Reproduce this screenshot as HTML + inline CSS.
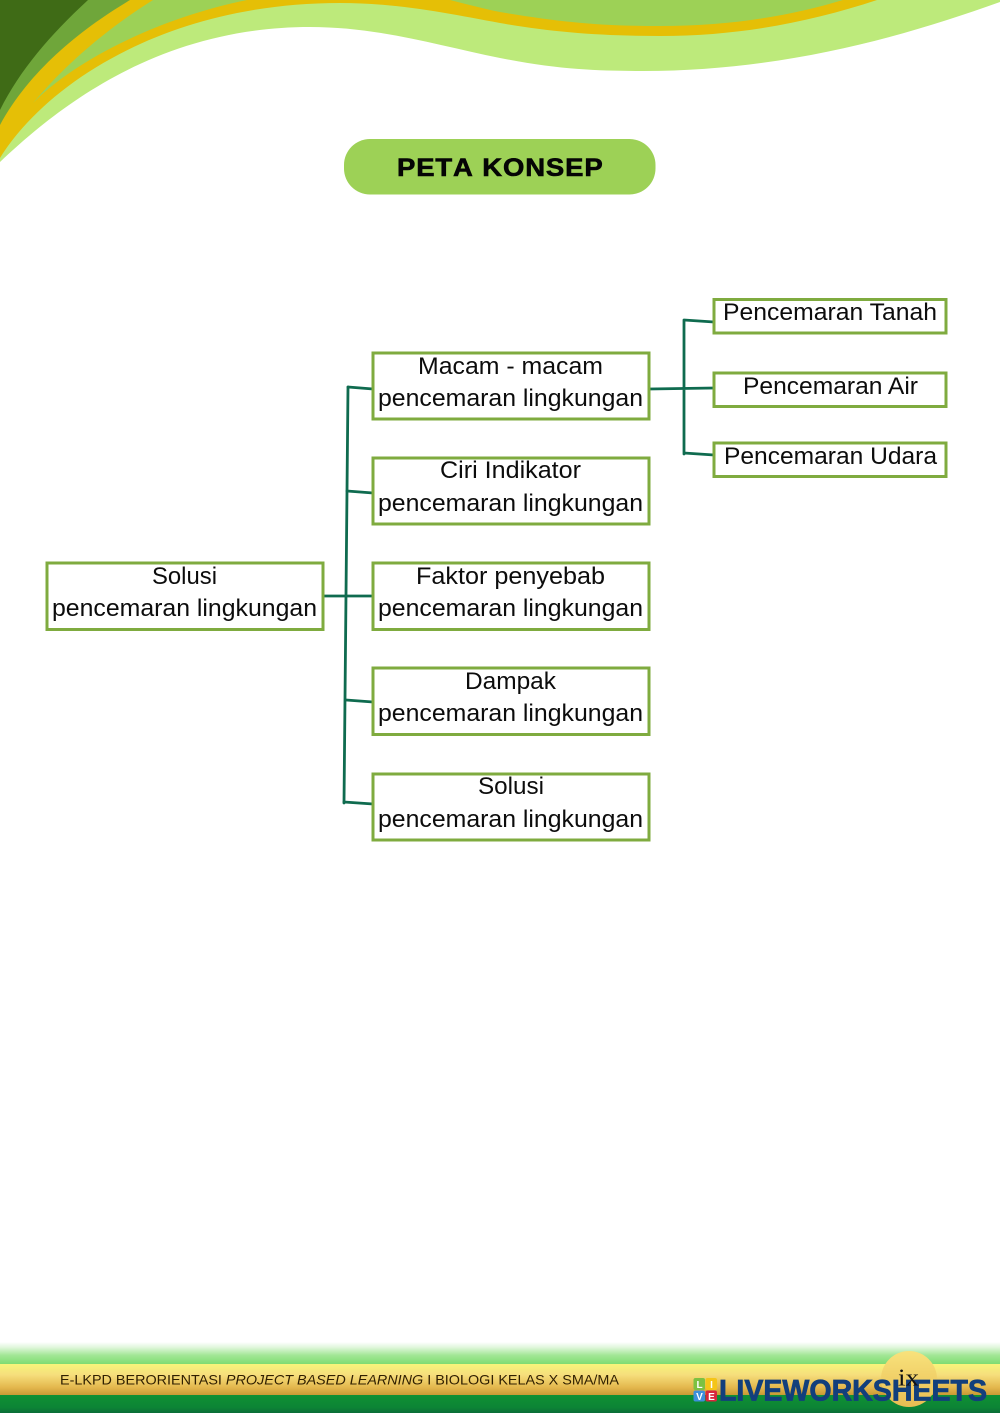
<!DOCTYPE html>
<html>
<head>
<meta charset="utf-8">
<style>
html,body{margin:0;padding:0;background:#fff;width:1000px;height:1414px;overflow:hidden}
svg{display:block}
.t{font-family:"Liberation Sans",sans-serif;font-size:24px;fill:#0c0c0c;text-anchor:start}
.b{fill:#fff;stroke:#7fab3f;stroke-width:3}
.l{stroke:#0f6b4f;stroke-width:2.8;fill:none;stroke-linecap:round}
</style>
</head>
<body>
<svg width="1000" height="1414" viewBox="0 0 1000 1414" xmlns="http://www.w3.org/2000/svg">
<defs>
<linearGradient id="g1" x1="0" y1="0" x2="0" y2="1"><stop offset="0" stop-color="#fff"/><stop offset=".25" stop-color="#dff6da"/><stop offset=".6" stop-color="#a2e796"/><stop offset="1" stop-color="#7fdc72"/></linearGradient>
<linearGradient id="g2" x1="0" y1="0" x2="0" y2="1"><stop offset="0" stop-color="#f7f57a"/><stop offset=".35" stop-color="#f6de7c"/><stop offset=".75" stop-color="#e4b84e"/><stop offset="1" stop-color="#c99a34"/></linearGradient>
<linearGradient id="g3" x1="0" y1="0" x2="0" y2="1"><stop offset="0" stop-color="#0f9134"/><stop offset=".7" stop-color="#0c8435"/><stop offset="1" stop-color="#0b6d38"/></linearGradient>
<linearGradient id="g4" x1="0" y1="0" x2="0" y2="1"><stop offset="0" stop-color="#f8e27c"/><stop offset="1" stop-color="#e9bd52"/></linearGradient>
</defs>

<!-- header waves -->
<path d="M0 162C60 105 160 27 310 27C380 27 440 46 500 58C560 70 600 71 643 71C780 71 900 38 1000 2V0H0Z" fill="#bdea7b"/>
<path d="M0 158C45 85 165 3 340 3C400 3 450 14 500 23C550 32 600 36 660 36C740 36 810 22 877 0H0Z" fill="#e5bf06"/>
<path d="M33 103C70 65 150 20 247 0H153C105 30 65 65 33 103Z" fill="#9dd156"/>
<path d="M450 0C470 5 485 9 500 12C560 22 600 26 660 26C730 26 790 16 843 0Z" fill="#9dd156"/>
<path d="M0 125C30 70 80 30 130 0H0Z" fill="#6fa63a"/>
<path d="M0 110C20 70 50 35 88 0H0Z" fill="#3f6b16"/>

<!-- title -->
<rect x="344" y="139" width="311.500" height="55.500" rx="26" fill="#9dd156"/>
<text transform="translate(397,176) scale(1.1,1)" x="0" y="0" font-family="'Liberation Sans',sans-serif" font-weight="700" font-size="25" fill="#050505" stroke="#050505" stroke-width=".6" style="font-kerning:none" textLength="187" lengthAdjust="spacing">PETA KONSEP</text>

<!-- connectors -->
<path class="l" d="M348 387L344 803"/>
<path class="l" d="M348 387L373 389M347 491L373 493M323 596H373M346 700L373 702M344 802L373 804"/>
<path class="l" d="M649 389L714 388M684 320V454M684 320L714 322M684 453L714 455"/>

<!-- boxes -->
<rect class="b" x="47" y="563" width="276" height="66.500"/>
<rect class="b" x="373" y="353" width="276" height="66"/>
<rect class="b" x="373" y="458" width="276" height="66"/>
<rect class="b" x="373" y="563" width="276" height="66.500"/>
<rect class="b" x="373" y="668" width="276" height="66.500"/>
<rect class="b" x="373" y="774" width="276" height="66"/>
<rect class="b" x="714" y="299.500" width="232" height="33.500"/>
<rect class="b" x="714" y="373" width="232" height="33.500"/>
<rect class="b" x="714" y="443" width="232" height="33.500"/>

<!-- labels -->
<text class="t" x="152" y="584" textLength="65" lengthAdjust="spacingAndGlyphs">Solusi</text>
<text class="t" x="52" y="616" textLength="265" lengthAdjust="spacingAndGlyphs">pencemaran lingkungan</text>

<text class="t" x="418" y="374" textLength="185" lengthAdjust="spacingAndGlyphs">Macam - macam</text>
<text class="t" x="378" y="406" textLength="265" lengthAdjust="spacingAndGlyphs">pencemaran lingkungan</text>

<text class="t" x="440" y="478" textLength="141" lengthAdjust="spacingAndGlyphs">Ciri Indikator</text>
<text class="t" x="378" y="511" textLength="265" lengthAdjust="spacingAndGlyphs">pencemaran lingkungan</text>

<text class="t" x="416" y="584" textLength="189" lengthAdjust="spacingAndGlyphs">Faktor penyebab</text>
<text class="t" x="378" y="616" textLength="265" lengthAdjust="spacingAndGlyphs">pencemaran lingkungan</text>

<text class="t" x="465" y="689" textLength="91" lengthAdjust="spacingAndGlyphs">Dampak</text>
<text class="t" x="378" y="721" textLength="265" lengthAdjust="spacingAndGlyphs">pencemaran lingkungan</text>

<text class="t" x="478" y="794" textLength="66" lengthAdjust="spacingAndGlyphs">Solusi</text>
<text class="t" x="378" y="827" textLength="265" lengthAdjust="spacingAndGlyphs">pencemaran lingkungan</text>

<text class="t" x="723" y="320" textLength="214" lengthAdjust="spacingAndGlyphs">Pencemaran Tanah</text>
<text class="t" x="743" y="394" textLength="175" lengthAdjust="spacingAndGlyphs">Pencemaran Air</text>
<text class="t" x="724" y="464" textLength="213" lengthAdjust="spacingAndGlyphs">Pencemaran Udara</text>

<!-- footer -->
<rect x="0" y="1342" width="1000" height="22" fill="url(#g1)"/>
<rect x="0" y="1364" width="1000" height="31" fill="url(#g2)"/>
<rect x="0" y="1395" width="1000" height="18" fill="url(#g3)"/>
<text x="60" y="1384.500" font-family="'Liberation Sans',sans-serif" font-size="14" fill="#2f1f00" textLength="559" lengthAdjust="spacingAndGlyphs">E-LKPD BERORIENTASI <tspan font-style="italic">PROJECT BASED LEARNING</tspan> I BIOLOGI KELAS X SMA/MA</text>

<circle cx="909" cy="1379" r="28" fill="url(#g4)"/>

<!-- logo -->
<rect x="693.500" y="1378" width="11.500" height="12" rx="2" fill="#7cc142"/>
<rect x="705.500" y="1378" width="11.500" height="12" rx="2" fill="#f5c518"/>
<rect x="693.500" y="1390.500" width="11.500" height="11" rx="2" fill="#3d8fdc"/>
<rect x="705.500" y="1390.500" width="11.500" height="11" rx="2" fill="#d8263c"/>
<g font-family="'Liberation Sans',sans-serif" font-weight="700" font-size="10" fill="#fff" text-anchor="middle">
<text x="699.500" y="1388">L</text><text x="711.500" y="1388">I</text><text x="699.500" y="1400">V</text><text x="711.500" y="1400">E</text>
</g>
<text x="719" y="1400.500" font-family="'Liberation Sans',sans-serif" font-weight="700" font-size="30" fill="#123f7c" stroke="#123f7c" stroke-width=".8" textLength="268" lengthAdjust="spacingAndGlyphs">LIVEWORKSHEETS</text>
<text x="898" y="1385.500" font-family="'Liberation Serif',serif" font-size="24" fill="#111" textLength="21" lengthAdjust="spacingAndGlyphs">ix</text>
</svg>
</body>
</html>
